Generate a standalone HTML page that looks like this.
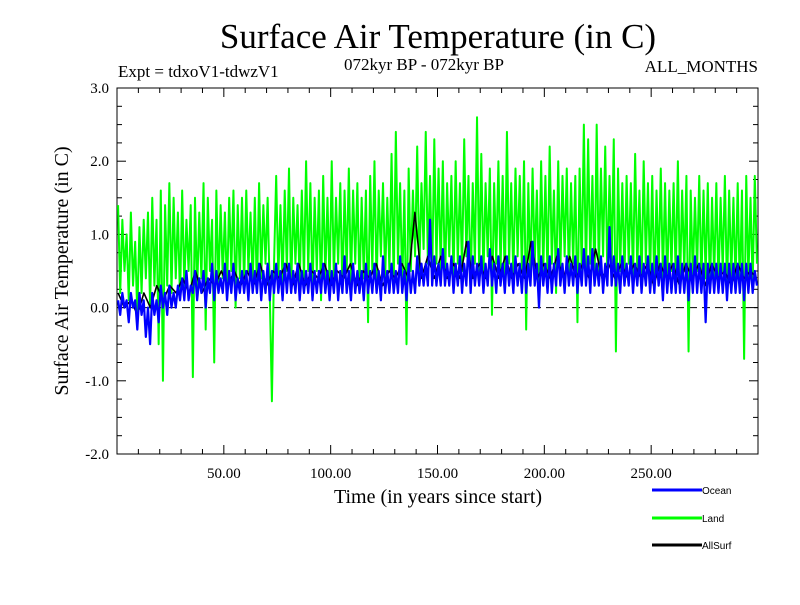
<!DOCTYPE html>
<html><head><meta charset="utf-8"><style>
body{margin:0;background:#fff;}
svg text{font-family:"Liberation Serif",serif;fill:#000;}
</style></head><body>
<svg id="chart" width="800" height="600" viewBox="0 0 800 600" xmlns="http://www.w3.org/2000/svg">
<rect width="800" height="600" fill="#fff"/>
<text x="438" y="48" font-size="35" text-anchor="middle">Surface Air Temperature (in C)</text>
<text x="118" y="77" font-size="17">Expt = tdxoV1-tdwzV1</text>
<text x="424" y="70" font-size="17" text-anchor="middle">072kyr BP - 072kyr BP</text>
<text x="758" y="72" font-size="17" text-anchor="end">ALL_MONTHS</text>
<text transform="translate(68,271) rotate(-90)" font-size="20" text-anchor="middle">Surface Air Temperature (in C)</text>
<text x="438" y="503" font-size="20" text-anchor="middle">Time (in years since start)</text>
<g id="axes"></g>
<g id="series"></g>
<g id="legend"></g>
</svg>
<script>
const xTicks=[50,100,150,200,250];
const xTickLabels=["50.00","100.00","150.00","200.00","250.00"];
const yTicks=[3,2,1,0,-1,-2];
const yTickLabels=["3.0","2.0","1.0","0.0","-1.0","-2.0"];
const landValues=[1.4,0.2,1.2,0.5,1.0,0.1,1.3,0.3,0.9,-0.1,
1.1,0.2,1.2,0.4,1.3,0.0,1.5,0.3,1.2,-0.5,
1.6,-1.0,1.4,0.3,1.7,0.2,1.5,0.4,1.3,0.1,
1.6,0.3,1.2,0.5,1.4,-0.95,1.5,0.2,1.3,0.4,
1.7,-0.3,1.5,0.5,1.2,-0.75,1.6,0.3,1.4,0.4,
1.3,0.2,1.5,0.5,1.6,0.0,1.4,0.4,1.5,0.3,
1.6,0.5,1.3,0.3,1.5,0.2,1.7,0.4,1.4,0.6,
1.5,0.2,-1.28,0.6,1.8,0.4,1.4,0.3,1.6,0.5,
1.9,0.2,1.5,0.6,1.4,0.3,1.6,0.4,2.0,0.5,
1.7,0.2,1.5,0.5,1.6,0.1,1.8,0.4,1.5,0.3,
2.0,0.4,1.5,0.6,1.7,0.2,1.6,0.5,1.9,0.3,
1.6,0.6,1.7,0.2,1.5,0.4,1.6,-0.2,1.8,0.5,
2.0,0.3,1.6,0.7,1.7,0.4,1.5,0.5,2.1,0.3,
2.4,0.6,1.7,0.3,1.6,-0.5,1.9,0.5,1.6,0.7,
2.2,0.5,1.7,0.8,2.4,0.6,1.8,0.4,2.3,0.6,
1.9,0.5,2.0,0.3,1.7,0.7,1.8,0.4,2.0,0.6,
1.7,0.5,2.3,0.7,1.8,0.2,1.7,0.6,2.6,0.5,
2.1,0.4,1.7,0.7,1.9,-0.1,1.7,0.6,2.0,0.5,
1.8,0.3,2.4,0.6,1.7,0.4,1.9,0.7,1.8,0.5,
2.0,-0.3,1.7,0.4,1.9,0.6,1.6,0.3,2.0,0.5,
1.8,0.4,2.2,0.6,1.6,0.2,2.0,0.5,1.8,0.7,
1.9,0.4,1.7,0.6,1.8,-0.2,1.9,0.5,2.5,0.4,
2.3,0.6,1.8,0.3,2.5,0.5,1.9,0.7,2.2,0.4,
1.8,0.6,2.3,-0.6,1.9,0.5,1.7,0.4,1.8,0.6,
1.7,0.4,2.1,0.5,1.6,0.3,2.0,0.6,1.7,0.4,
1.8,0.2,1.6,0.5,1.9,0.4,1.7,0.3,1.6,0.5,
1.7,0.4,2.0,0.3,1.6,0.5,1.8,-0.6,1.6,0.4,
1.5,0.5,1.8,0.3,1.6,0.4,1.7,0.2,1.5,0.4,
1.7,0.3,1.5,0.5,1.8,0.2,1.6,0.4,1.5,0.3,
1.7,0.2,1.6,-0.7,1.8,0.4,1.5,0.3,1.8,0.6];
const oceanValues=[0.1,-0.1,0.2,0.0,0.1,-0.2,0.2,0.0,0.1,-0.3,
0.2,-0.1,0.1,-0.4,0.0,-0.5,0.2,-0.1,0.1,-0.2,
0.3,0.0,0.2,-0.1,0.3,0.0,0.2,0.0,0.3,0.1,
0.4,0.1,0.5,0.1,0.3,0.2,0.5,0.1,0.4,0.2,
0.5,0.0,0.4,0.2,0.6,0.1,0.5,0.2,0.4,0.2,
0.6,0.1,0.5,0.2,0.6,0.1,0.4,0.2,0.5,0.2,
0.5,0.1,0.6,0.2,0.5,0.2,0.6,0.1,0.5,0.2,
0.6,0.1,0.5,0.2,0.6,0.2,0.5,0.1,0.6,0.2,
0.6,0.2,0.5,0.2,0.6,0.1,0.5,0.2,0.5,0.2,
0.6,0.1,0.5,0.2,0.5,0.2,0.6,0.2,0.5,0.1,
0.5,0.2,0.6,0.1,0.5,0.2,0.7,0.2,0.5,0.1,
0.6,0.2,0.5,0.2,0.5,0.1,0.6,0.2,0.5,0.2,
0.6,0.2,0.5,0.1,0.7,0.2,0.5,0.2,0.6,0.2,
0.5,0.2,0.7,0.2,0.5,0.1,0.6,0.2,0.5,0.2,
0.7,0.3,0.6,0.3,0.6,0.3,1.2,0.3,0.7,0.3,
0.6,0.3,0.8,0.3,0.6,0.3,0.7,0.2,0.6,0.3,
0.7,0.2,0.6,0.3,0.9,0.2,0.7,0.3,0.6,0.3,
0.7,0.2,0.6,0.3,0.8,0.3,0.6,0.2,0.7,0.3,
0.6,0.2,0.7,0.3,0.6,0.2,0.7,0.3,0.6,0.2,
0.7,0.2,0.6,0.3,0.9,0.3,0.6,0.0,0.7,0.3,
0.6,0.2,0.7,0.2,0.6,0.3,0.8,0.3,0.6,0.2,
0.7,0.3,0.6,0.3,0.7,0.2,0.6,0.3,0.8,0.3,
0.7,0.2,0.8,0.3,0.6,0.3,0.7,0.2,0.6,0.3,
1.1,0.3,0.7,0.3,0.6,0.2,0.7,0.3,0.6,0.3,
0.7,0.2,0.6,0.3,0.7,0.2,0.6,0.3,0.7,0.2,
0.6,0.2,0.7,0.3,0.6,0.1,0.7,0.2,0.6,0.2,
0.6,0.2,0.7,0.2,0.6,0.2,0.6,0.1,0.6,0.2,
0.7,0.2,0.6,0.2,0.6,-0.2,0.6,0.2,0.6,0.2,
0.6,0.2,0.6,0.2,0.6,0.1,0.6,0.2,0.6,0.2,
0.6,0.2,0.6,0.1,0.6,0.2,0.6,0.2,0.5,0.3];
const allSurfValues=[0.2,0.0,0.1,-0.1,0.2,0.0,0.3,0.1,0.3,0.2,0.4,0.2,0.5,0.2,0.4,0.3,0.5,0.3,0.5,0.3,
0.5,0.3,0.6,0.3,0.5,0.4,0.6,0.3,0.6,0.3,0.5,0.4,0.6,0.3,0.5,0.4,0.6,0.3,0.5,0.4,
0.6,0.3,0.5,0.4,0.6,0.4,1.3,0.4,0.7,0.4,0.7,0.4,0.6,0.4,0.9,0.4,0.6,0.4,0.7,0.4,
0.7,0.4,0.6,0.4,0.9,0.4,0.6,0.4,0.7,0.4,0.7,0.4,0.6,0.4,0.8,0.4,0.6,0.4,0.6,0.4,
0.6,0.4,0.6,0.3,0.6,0.4,0.6,0.3,0.6,0.4,0.6,0.3,0.6,0.4,0.5,0.3,0.6,0.4,0.5,0.4];

const NS="http://www.w3.org/2000/svg";
const L=117,R=758,T=88,B=454;
function xScale(v){return L+(v/300)*(R-L);}
function yScale(v){return B-(v+2)/5*(B-T);}
function mk(tag,attrs,parent){const e=document.createElementNS(NS,tag);for(const k in attrs)e.setAttribute(k,attrs[k]);parent.appendChild(e);return e;}
const axes=document.getElementById('axes');
const frame=mk('rect',{x:L,y:T,width:R-L,height:B-T,fill:'none',stroke:'#000','stroke-width':1},axes);


const zl=mk('line',{x1:L,x2:R,y1:yScale(0),y2:yScale(0),stroke:'#000','stroke-dasharray':'8,5','stroke-width':1},axes);


for(let v=10;v<300;v+=10){
  const major=v%50===0;
  const len=major?9:5;
  const t=mk('line',{x1:xScale(v),x2:xScale(v),y1:B,y2:B-len,stroke:'#000'},axes);
  
  
  const t2=mk('line',{x1:xScale(v),x2:xScale(v),y1:T,y2:T+len,stroke:'#000'},axes);
  
  
}
xTicks.forEach((v,i)=>{
  const tx=mk('text',{x:xScale(v),y:B+24,'font-size':15,'text-anchor':'middle'},axes);
  tx.textContent=xTickLabels[i];
  
  
});
for(let v=-2;v<=3.001;v+=0.25){
  const major=Math.abs(v-Math.round(v))<1e-6;
  const len=major?9:5;
  const t=mk('line',{x1:L,x2:L+len,y1:yScale(v),y2:yScale(v),stroke:'#000'},axes);
  
  
  const t2=mk('line',{x1:R,x2:R-len,y1:yScale(v),y2:yScale(v),stroke:'#000'},axes);
  
  
}
yTicks.forEach((v,i)=>{
  const ty=mk('text',{x:L-8,y:yScale(v)+5,'font-size':15,'text-anchor':'end'},axes);
  ty.textContent=yTickLabels[i];
  
  
});
const series=document.getElementById('series');
function drawLine(vals,color,w,name){
  const n=vals.length;
  const pts=vals.map((v,i)=>xScale(0.5+i*(299/(n-1)))+','+yScale(v)).join(' ');
  const p=mk('polyline',{points:pts,fill:'none',stroke:color,'stroke-width':w,'stroke-linejoin':'round'},series);
  
  
}
drawLine(landValues,'#00ff00',2,'land-series');
drawLine(allSurfValues,'#000000',1.6,'allsurf-series');
drawLine(oceanValues,'#0000ff',2.2,'ocean-series');
const legend=document.getElementById('legend');
[['Ocean','#0000ff',490],['Land','#00ff00',518],['AllSurf','#000000',545]].forEach(e=>{
  const ln=mk('line',{x1:652,x2:702,y1:e[2],y2:e[2],stroke:e[1],'stroke-width':3},legend);
  
  
  const tx=mk('text',{x:702,y:e[2]+4,'font-size':10},legend);
  tx.setAttribute('style','font-family:"Liberation Sans",sans-serif');
  tx.textContent=e[0];
  
  
});
</script>
</body></html>
